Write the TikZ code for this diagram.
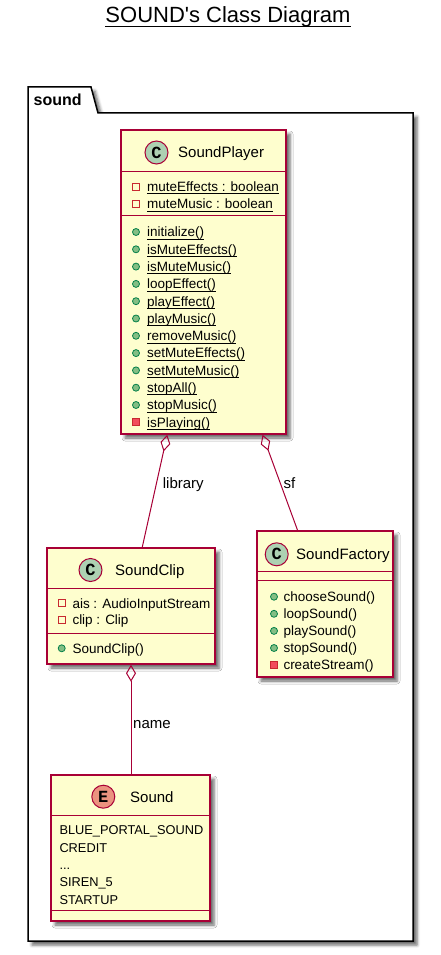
\documentclass[tikz,border=0pt]{standalone}
\usepackage{fontspec}
\setmainfont{Liberation Sans}
\setmonofont{Liberation Mono}
\usetikzlibrary{arrows.meta,shadows.blur,calc}
\definecolor{boxfill}{HTML}{FEFECE}
\definecolor{boxline}{HTML}{A80036}
\definecolor{spotC}{HTML}{ADD1B2}
\definecolor{spotE}{HTML}{EB937F}
\definecolor{pubfill}{HTML}{84BE84}
\definecolor{publine}{HTML}{038048}
\definecolor{privline}{HTML}{C82930}
\definecolor{privfill}{HTML}{F24D5C}
\newcommand\MyMem{\fontsize{13.5}{16}\selectfont}
\newcommand\MyEnum{\fontsize{12.8}{16}\selectfont}
\newcommand\MyName{\fontsize{15}{18}\selectfont}
\newsavebox\MyULbox
\newcommand\MyUL[1]{\sbox\MyULbox{#1}\rlap{\usebox\MyULbox}\rule[-2.8pt]{\wd\MyULbox}{0.9pt}}
\newcommand\MyTitleUL[1]{\sbox\MyULbox{#1}\rlap{\usebox\MyULbox}\rule[-4pt]{\wd\MyULbox}{1.3pt}}
\tikzset{
 shad/.style={blur shadow={shadow xshift=4pt, shadow yshift=-4pt, shadow blur radius=3pt, shadow opacity=60}},
 classbox/.style={draw=boxline, fill=boxfill, line width=1.5pt, inner sep=0pt, shad},
 sepline/.style={draw=boxline, line width=1pt},
 spot/.style={circle, draw=boxline, line width=1pt, minimum size=23pt, inner sep=0pt, font=\ttfamily\bfseries\fontsize{17}{17}\selectfont},
 member/.style={anchor=base west, inner sep=0pt, font=\MyMem},
 enumitem/.style={anchor=base west, inner sep=0pt, font=\MyEnum},
 cname/.style={anchor=base west, inner sep=0pt, font=\MyName},
 pubicon/.style={circle, fill=pubfill, draw=publine, line width=0.8pt, minimum size=7pt, inner sep=0pt},
 privattr/.style={rectangle, draw=privline, line width=0.8pt, minimum size=7pt, inner sep=0pt},
 privmeth/.style={rectangle, fill=privfill, draw=privline, line width=0.8pt, minimum size=7pt, inner sep=0pt},
 assoc/.style={draw=boxline, line width=1pt},
 agg/.style={assoc, {Diamond[open, length=17pt, width=10pt]}-},
 lbl/.style={anchor=base west, inner sep=0pt, font=\fontsize{15}{18}\selectfont},
}
\begin{document}
\begin{tikzpicture}[x=1pt,y=-1pt]
\useasboundingbox (0,0) rectangle (440,955);
% title
\node[anchor=base, inner sep=0pt] (title) at (228,23) {\fontsize{22}{26}\selectfont\MyTitleUL{SOUND\textquotesingle s Class Diagram}};
% package
\path[draw=black, line width=1.5pt, fill=white, shad] (28,87) -- (91,87) -- (98,113) -- (413,113) -- (413,941) -- (28,941) -- cycle;
\node[anchor=base west, inner sep=0pt, font=\bfseries\fontsize{16}{18}\selectfont] (pkglabel) at (33.5,106) {sound};

% ---------- SoundPlayer
\node[classbox, minimum width=165pt, minimum height=304pt] (player) at (203.5,282) {};
\draw[sepline] (121,171.7) -- (286,171.7);
\draw[sepline] (121,215.7) -- (286,215.7);
\node[spot, fill=spotC] (pspot) at (156.5,152.5) {C};
\node[cname] (pname) at (178,157.9) {SoundPlayer};
\node[privattr] (pa1) at (136,186.7) {};
\node[member] (pat1) at (147,191.5) {\MyUL{muteEffects : boolean}};
\node[privattr] (pa2) at (136,204) {};
\node[member] (pat2) at (147,208.8) {\MyUL{muteMusic : boolean}};
\foreach \t [count=\i from 0] in {initialize(),isMuteEffects(),isMuteMusic(),loopEffect(),playEffect(),playMusic(),removeMusic(),setMuteEffects(),setMuteMusic(),stopAll(),stopMusic()}{
  \node[pubicon] (pmi\i) at (136,232+17.3*\i) {};
  \node[member] (pmt\i) at (147,236.8+17.3*\i) {\MyUL{\t}};
}
\node[privmeth] (pmi11) at (136,422.3) {};
\node[member] (pmt11) at (147,427.1) {\MyUL{isPlaying()}};

% ---------- SoundClip
\node[classbox, minimum width=168pt, minimum height=116pt] (clip) at (131,606) {};
\draw[sepline] (47,588) -- (215,588);
\draw[sepline] (47,633.3) -- (215,633.3);
\node[spot, fill=spotC] (cspot) at (90.5,570) {C};
\node[cname] (cname) at (115,575.4) {SoundClip};
\node[privattr] (ca1) at (61.7,603.3) {};
\node[member] (cat1) at (72.3,608.1) {ais : AudioInputStream};
\node[privattr] (ca2) at (61.7,620) {};
\node[member] (cat2) at (72.3,624.8) {clip : Clip};
\node[pubicon] (cm1) at (61.7,648.3) {};
\node[member] (cmt1) at (72.3,653.1) {SoundClip()};

% ---------- SoundFactory
\node[classbox, minimum width=136pt, minimum height=146pt] (factory) at (325,604) {};
\draw[sepline] (257,571.7) -- (393,571.7);
\draw[sepline] (257,580) -- (393,580);
\node[spot, fill=spotC] (fspot) at (276.7,554.3) {C};
\node[cname] (fname) at (296,559.7) {SoundFactory};
\foreach \t [count=\i from 0] in {chooseSound(),loopSound(),playSound(),stopSound()}{
  \node[pubicon] (fmi\i) at (274,596.7+17.1*\i) {};
  \node[member] (fmt\i) at (283.3,601.5+17.1*\i) {\t};
}
\node[privmeth] (fmi4) at (274,665.1) {};
\node[member] (fmt4) at (283.3,669.9) {createStream()};

% ---------- Sound enum
\node[classbox, minimum width=159pt, minimum height=146pt] (sound) at (130.5,848) {};
\draw[sepline] (51,815) -- (210,815);
\draw[sepline] (51,910.7) -- (210,910.7);
\node[spot, fill=spotE] (sspot) at (103.3,796.7) {E};
\node[cname] (sname) at (130,802.1) {Sound};
\node[enumitem] (se0) at (59.3,834.8) {BLUE\_PORTAL\_SOUND};
\node[enumitem] (se1) at (59.3,852.1) {CREDIT};
\node[enumitem] (se2) at (59.3,869.4) {...};
\node[enumitem] (se3) at (59.3,886.7) {SIREN\_5};
\node[enumitem] (se4) at (59.3,904.0) {STARTUP};

% ---------- connectors
\draw[agg] ([xshift=47pt]player.south west) -- ([xshift=96pt]clip.north west);
\draw[agg] ([xshift=142.3pt]player.south west) -- ([xshift=41.3pt]factory.north west);
\draw[agg] (clip.south) -- (clip.south |- sound.north);
\node[lbl] (l1) at (162.7,488) {library};
\node[lbl] (l2) at (283.3,488) {sf};
\node[lbl] (l3) at (133,728) {name};
\end{tikzpicture}
\end{document}
